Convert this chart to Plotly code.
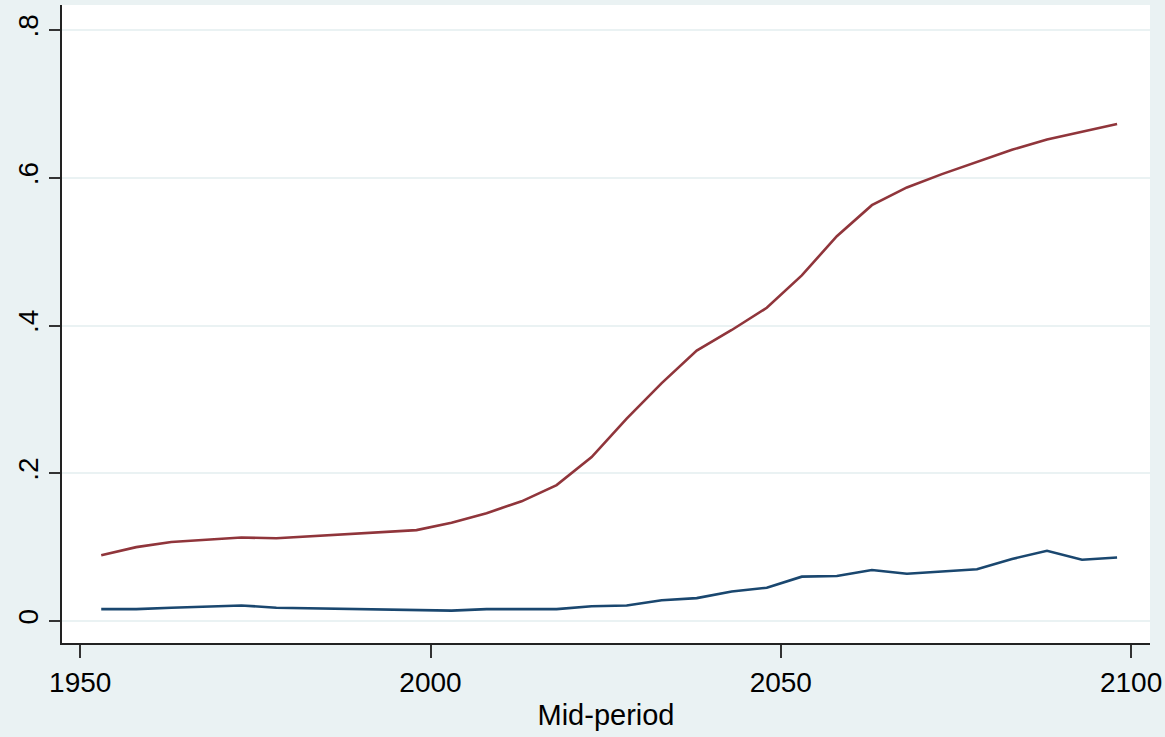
import plotly.graph_objects as go

years = [1953, 1958, 1963, 1968, 1973, 1978, 1983, 1988, 1993, 1998,
         2003, 2008, 2013, 2018, 2023, 2028, 2033, 2038, 2043, 2048,
         2053, 2058, 2063, 2068, 2073, 2078, 2083, 2088, 2093, 2098]

red_series = [0.089, 0.100, 0.107, 0.110, 0.113, 0.112, 0.115, 0.118, 0.121, 0.123,
              0.133, 0.146, 0.162, 0.184, 0.222, 0.274, 0.322, 0.366, 0.394, 0.424,
              0.468, 0.521, 0.563, 0.587, 0.605, 0.622, 0.638, 0.652, 0.663, 0.673]

blue_series = [0.016, 0.016, 0.018, 0.019, 0.021, 0.018, 0.017, 0.016, 0.015, 0.014,
               0.014, 0.016, 0.016, 0.016, 0.020, 0.021, 0.028, 0.031, 0.040, 0.045,
               0.060, 0.061, 0.069, 0.064, 0.067, 0.070, 0.084, 0.095, 0.083, 0.086]

x_ticks = [1950, 2000, 2050, 2100]
y_ticks = [0, 0.2, 0.4, 0.6, 0.8]
y_tick_labels = ["0", ".2", ".4", ".6", ".8"]

fig = go.Figure()
fig.add_trace(go.Scatter(x=years, y=blue_series, mode="lines",
                         line=dict(color="#1a476f", width=2.6), showlegend=False))
fig.add_trace(go.Scatter(x=years, y=red_series, mode="lines",
                         line=dict(color="#90353b", width=2.6), showlegend=False))

font_family = "Liberation Sans, Arial, sans-serif"

fig.update_layout(
    width=1165, height=737,
    margin=dict(l=62, r=15, t=5, b=94, autoexpand=False),
    paper_bgcolor="#eaf2f3",
    plot_bgcolor="#ffffff",
    font=dict(family=font_family, size=28, color="#000000"),
    xaxis=dict(
        range=[1947.4, 2102.7],
        tickvals=x_ticks,
        ticks="outside", ticklen=13, tickwidth=2, tickcolor="#333333",
        showline=True, linecolor="#222222", linewidth=2,
        showgrid=False, zeroline=False,
        tickfont=dict(size=28),
        title=dict(text="Mid-period", font=dict(size=29), standoff=8),
    ),
    yaxis=dict(
        range=[-0.0298, 0.834],
        tickvals=y_ticks, ticktext=y_tick_labels,
        tickangle=-90,
        ticks="outside", ticklen=11, tickwidth=2, tickcolor="#333333",
        showline=True, linecolor="#222222", linewidth=2,
        showgrid=True, gridcolor="#eaf2f3", gridwidth=1.5,
        zeroline=False,
        tickfont=dict(size=28),
    ),
)

fig.write_html(
    "out.html",
    config={"displayModeBar": False},
    post_script="document.body.style.margin='0';document.body.style.overflow='hidden';",
)
